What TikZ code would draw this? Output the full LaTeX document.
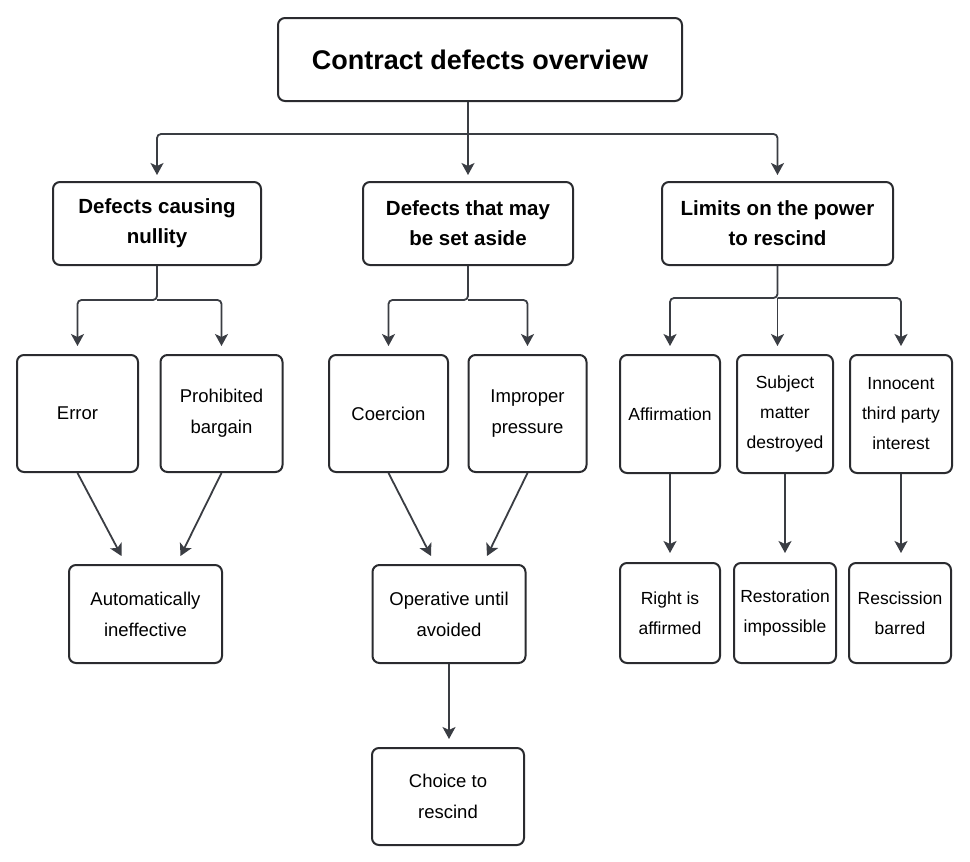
\documentclass[tikz,border=0pt]{standalone}
\usepackage{fontspec}
\setmainfont{Liberation Sans}
\usetikzlibrary{arrows.meta}
\definecolor{boxline}{HTML}{2A2B2F}
\definecolor{linkline}{HTML}{3A3D43}

\begin{document}
\begin{tikzpicture}[x=1pt,y=-1pt,
  box/.style={draw=boxline,line width=2pt,rounded corners=7pt,align=center,inner sep=0pt,fill=white},
  head/.style={box,font=\fontsize{20.5}{30}\selectfont\bfseries,minimum height=83pt},
  leaf/.style={box,font=\fontsize{18.5}{31}\selectfont},
  small/.style={leaf,font=\fontsize{17.5}{30}\selectfont},
  link/.style={draw=linkline,line width=1.8pt,rounded corners=4pt,-{Stealth[length=12pt,width=13pt,inset=3pt]}}]
  \useasboundingbox[fill=white] (0,0) rectangle (970,862);
  % top and first level
  \node[box,font=\fontsize{27}{32}\selectfont\bfseries,minimum width=404pt,minimum height=83pt] (title) at (480,59.5) {Contract defects overview};
  \node[head,minimum width=208pt] (nul) at (157,223.5) {Defects causing\\nullity};
  \node[head,minimum width=210pt] (avd) at (468,223.5) {Defects that may\\be set aside};
  \node[head,minimum width=231pt] (lim) at (777.5,223.5) {Limits on the power\\to rescind};
  % second level
  \node[leaf,minimum width=121pt,minimum height=117pt] (err) at (77.5,413.5) {Error};
  \node[leaf,minimum width=122pt,minimum height=117pt] (proh) at (221.5,413.5) {Prohibited\\bargain};
  \node[leaf,minimum width=119pt,minimum height=117pt] (coer) at (388.5,413.5) {Coercion};
  \node[leaf,minimum width=118pt,minimum height=117pt] (imp) at (527.5,413.5) {Improper\\pressure};
  \node[small,minimum width=100pt,minimum height=118pt] (aff) at (670,414) {Affirmation};
  \node[small,minimum width=96pt,minimum height=118pt] (subj) at (785,414) {Subject\\matter\\destroyed};
  \node[small,minimum width=102pt,minimum height=118pt] (inn) at (901,414) {Innocent\\third party\\interest};
  % outcomes
  \node[leaf,minimum width=153pt,minimum height=98pt] (auto) at (145.5,614) {Automatically\\ineffective};
  \node[leaf,minimum width=153pt,minimum height=98pt] (oper) at (449,614) {Operative until\\avoided};
  \node[leaf,minimum width=152pt,minimum height=97pt] (choice) at (448,796.5) {Choice to\\rescind};
  \node[small,minimum width=100pt,minimum height=100pt] (right) at (670,613) {Right is\\affirmed};
  \node[small,minimum width=102pt,minimum height=100pt] (rest) at (785,613) {Restoration\\impossible};
  \node[small,minimum width=102pt,minimum height=100pt] (resc) at (900,613) {Rescission\\barred};
  % branching bars
  \coordinate (bar0) at (0,134);
  \coordinate (bar1) at (0,300);
  \coordinate (bar2) at (0,298);
  \draw[link,shorten >=6pt] (title.south -| avd) -- (avd.north);
  \draw[link,shorten >=6pt] (avd.north |- bar0) -| (nul.north);
  \draw[link,shorten >=6pt] (avd.north |- bar0) -| (lim.north);
  \draw[link,shorten >=8pt] (nul.south) -- (nul.south |- bar1) -| (err.north);
  \draw[link,shorten >=8pt] (nul.south |- bar1) -| (proh.north);
  \draw[link,shorten >=8pt] (avd.south) -- (avd.south |- bar1) -| (coer.north);
  \draw[link,shorten >=8pt] (avd.south |- bar1) -| (imp.north);
  \draw[link,shorten >=8pt] (lim.south) -- (lim.south |- bar2) -| (aff.north);
  \draw[link,shorten >=8pt] (lim.south |- bar2) -- (lim.south |- subj.north);
  \draw[link,shorten >=8pt] (lim.south |- bar2) -| (inn.north);
  % into the outcomes
  \draw[link] (err.south) -- ([xshift=-24pt,yshift=8pt]auto.north);
  \draw[link] (proh.south) -- ([xshift=35pt,yshift=8pt]auto.north);
  \draw[link] (coer.south) -- ([xshift=-18pt,yshift=8pt]oper.north);
  \draw[link] (imp.south) -- ([xshift=38pt,yshift=8pt]oper.north);
  \draw[link,shorten >=8pt] (oper.south) -- (oper.south |- choice.north);
  \draw[link,shorten >=9pt] (aff.south) -- (aff.south |- right.north);
  \draw[link,shorten >=9pt] (subj.south) -- (subj.south |- rest.north);
  \draw[link,shorten >=9pt] (inn.south) -- (inn.south |- resc.north);
\end{tikzpicture}
\end{document}
